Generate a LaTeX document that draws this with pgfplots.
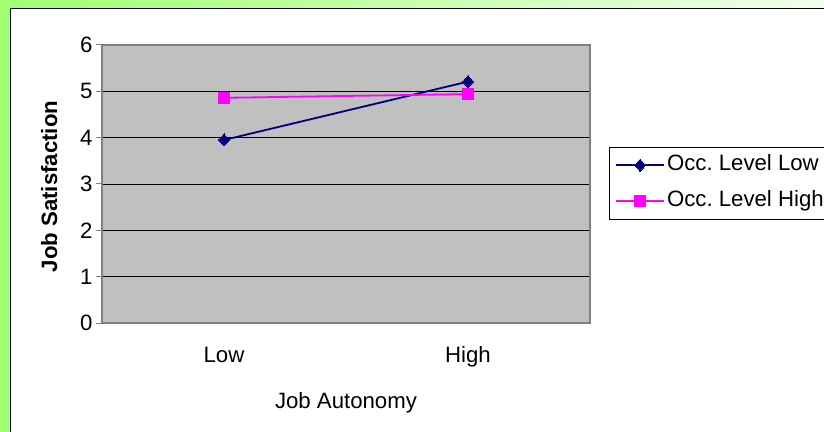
\documentclass[border=0pt]{standalone}
\usepackage{pgfplots}
\pgfplotsset{compat=1.18}
\usepackage{fontspec}
\setmainfont{Liberation Sans}
\definecolor{navyline}{RGB}{0,0,128}
\definecolor{magline}{RGB}{255,0,255}
\definecolor{plotgray}{RGB}{192,192,192}
\definecolor{bordergray}{RGB}{128,128,128}
\definecolor{greenL}{RGB}{160,255,112}
\definecolor{greenR}{RGB}{240,255,236}
\begin{document}
\begin{tikzpicture}[x=1pt,y=1pt]
\useasboundingbox (0,0) rectangle (824,431);
\clip (0,0) rectangle (824,431);
\shade[left color=greenL,right color=greenR] (0,0) rectangle (824,431);
\fill[greenL] (0,0) rectangle (10,431);
\filldraw[fill=white,draw=black,line width=1.5pt] (10.5,-10) rectangle (840,422.5);
\begin{axis}[
  at={(102pt,108pt)}, anchor=south west,
  scale only axis, width=488pt, height=278pt,
  xmin=-0.5, xmax=1.5, ymin=0, ymax=6,
  xtick={0,1}, xticklabels={Low,High},
  ytick={0,1,2,3,4,5,6},
  xtick style={draw=none},
  ytick pos=left,
  ytick align=outside,
  ytick style={draw=bordergray, line width=1pt},
  major tick length=6pt,
  ymajorgrids,
  grid style={black, line width=0.8pt},
  axis background/.style={fill=plotgray},
  axis line style={draw=bordergray, line width=1.2pt},
  /pgf/number format/assume math mode=true,
  tick label style={font=\fontsize{22.2}{26}\selectfont},
  xticklabel style={anchor=base, yshift=-39pt},
  xlabel={Job Autonomy},
  ylabel={\bfseries Job Satisfaction},
  label style={font=\fontsize{22.2}{26}\selectfont},
  xlabel style={at={(axis description cs:0.5,-0.309)}, anchor=base},
  ylabel style={at={(axis description cs:-0.092,0.491)}, anchor=base, rotate=0},
  legend style={at={(axis description cs:1.039,0.633)}, anchor=north west,
    draw=black, fill=white, inner xsep=6pt, inner ysep=0pt,
    font=\fontsize{22.2}{26}\selectfont,
    nodes={inner xsep=2pt, inner ysep=7.5pt, text height=16pt, text depth=5pt}},
  legend cell align=left,
  legend image code/.code={\draw[mark repeat=2,mark phase=2,#1,line width=1.8pt] plot coordinates {(0pt,0pt) (24pt,0pt) (48pt,0pt)};},
]
\addplot[navyline, line width=1.8pt, mark=diamond*, mark size=6pt, mark options={fill=navyline, line width=0pt, xscale=1.2}] coordinates {(0,3.95) (1,5.21)};
\addlegendentry{Occ.\ Level Low}
\addplot[magline, line width=1.8pt, mark=square*, mark size=5.3pt, mark options={fill=magline, line width=0pt}] coordinates {(0,4.86) (1,4.94)};
\addlegendentry{Occ.\ Level High}
\end{axis}
\end{tikzpicture}
\end{document}
